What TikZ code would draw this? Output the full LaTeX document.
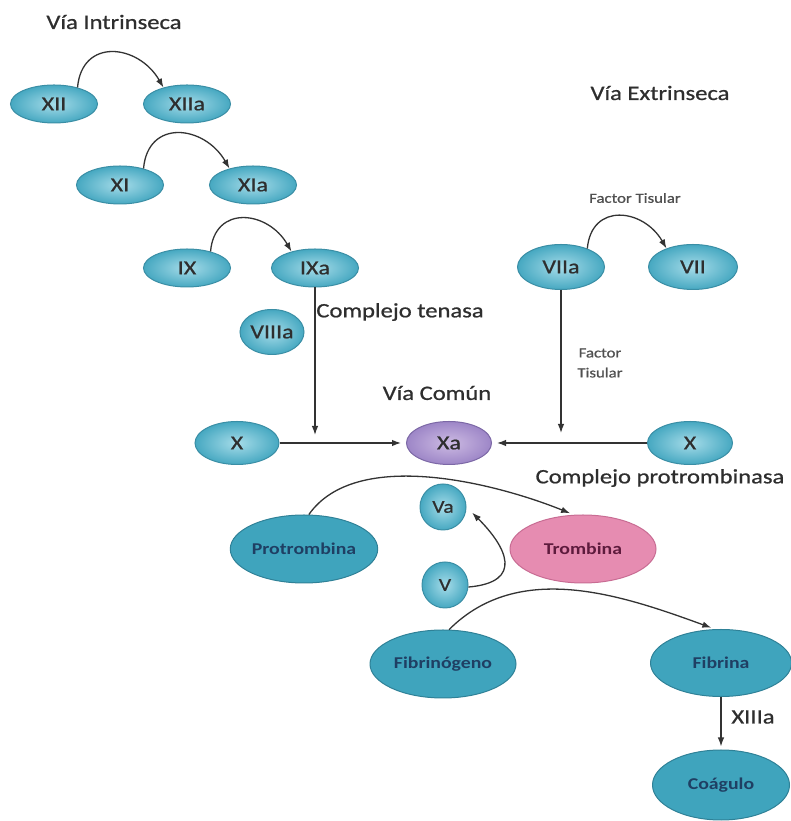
\documentclass[tikz,border=0pt]{standalone}
\usepackage{fontspec}
\setmainfont{Carlito}[FakeStretch=1.2]
\newfontfamily\medfont{Carlito}[FakeStretch=1.2,FakeBold=0.8]
\usetikzlibrary{shapes.geometric,arrows.meta}
\definecolor{tealin}{HTML}{A6DCE9}
\definecolor{tealout}{HTML}{46A8C1}
\definecolor{tealb}{HTML}{3A8EA5}
\definecolor{bigfill}{HTML}{3FA4BD}
\definecolor{bigb}{HTML}{2F8197}
\definecolor{bigtext}{HTML}{1F3F63}
\definecolor{pinkfill}{HTML}{E68CB1}
\definecolor{pinkb}{HTML}{C86C93}
\definecolor{pinktext}{HTML}{5E1B3D}
\definecolor{purin}{HTML}{CDBBE3}
\definecolor{purout}{HTML}{9D86C7}
\definecolor{purb}{HTML}{7C68A6}
\definecolor{labc}{HTML}{2E2E2E}
\definecolor{smallc}{HTML}{505050}
\definecolor{linec}{HTML}{333333}
\tikzset{
  lbl/.style={text=labc, font=\medfont\fontsize{20.5}{24}\selectfont, inner sep=0pt},
  smalllbl/.style={text=smallc, font=\medfont\fontsize{14}{20}\selectfont, align=center, inner sep=0pt},
  fac/.style={ellipse, draw=tealb, line width=1pt, inner color=tealin, outer color=tealout,
    text=labc, font=\medfont\fontsize{20}{22}\selectfont, inner sep=0pt,
    minimum width=87pt, minimum height=38pt},
  bignode/.style={ellipse, draw=bigb, line width=1pt, fill=bigfill, text=bigtext,
    font=\bfseries\fontsize{16.5}{18}\selectfont, inner sep=0pt,
    minimum width=146pt, minimum height=68pt},
  conn/.style={draw=linec, line width=1.3pt, -{Latex[length=9pt,width=6.5pt]}},
}
\begin{document}
\begin{tikzpicture}[x=1pt,y=1pt]
\useasboundingbox (0,0) rectangle (790,821);
% headings
\node[lbl] (hIntr) at (114,799) {Vía Intrinseca};
\node[lbl] (hExtr) at (660,728) {Vía Extrinseca};
\node[smalllbl] (ft1) at (635,623) {Factor Tisular};
\node[lbl] (hTen) at (400,509) {Complejo tenasa};
\node[smalllbl] (ft2) at (600,458) {Factor\\Tisular};
\node[lbl] (hCom) at (437,428) {Vía Común};
\node[lbl] (hPro) at (660,343) {Complejo protrombinasa};
\node[lbl] (hXIII) at (753,104) {XIIIa};
% intrinsic
\node[fac] (XII) at (54,717) {XII};
\node[fac] (XIIa) at (187,717) {XIIa};
\node[fac] (XI) at (120,636) {XI};
\node[fac] (XIa) at (253,636) {XIa};
\node[fac] (IX) at (187,553) {IX};
\node[fac] (IXa) at (315,553) {IXa};
\node[fac, minimum width=64pt, minimum height=45pt] (VIIIa) at (272,489) {VIIIa};
% extrinsic
\node[fac, minimum height=45pt] (VIIa) at (561,554) {VIIa};
\node[fac, minimum width=89pt, minimum height=45pt] (VII) at (693,554) {VII};
% common
\node[fac, minimum width=84pt, minimum height=43pt] (XL) at (237,378) {X};
\node[fac, minimum width=85pt, minimum height=43pt, inner color=purin, outer color=purout, draw=purb] (Xa) at (449,378) {Xa};
\node[fac, minimum width=85pt, minimum height=43pt] (XR) at (690,378) {X};
\node[bignode] (Prot) at (304,272) {Protrombina};
\node[bignode, fill=pinkfill, draw=pinkb, text=pinktext] (Trom) at (583,272) {Trombina};
\node[fac, circle, minimum size=46pt, font=\medfont\fontsize{18}{20}\selectfont] (Va) at (443,314) {Va};
\node[fac, circle, minimum size=46pt, font=\medfont\fontsize{18}{20}\selectfont] (V) at (445,236) {V};
\node[bignode] (Fibg) at (443,157) {Fibrinógeno};
\node[bignode, minimum width=141pt, minimum height=67pt] (Fib) at (721,158) {Fibrina};
\node[bignode, minimum width=137pt, minimum height=70pt] (Coag) at (721,36) {Coágulo};
% junction points
\coordinate (j1) at (315,386);
\coordinate (j2) at (561,388);
% arcs
\draw[conn] (XII.35) to[out=85,in=120,looseness=1.5] (XIIa.145);
\draw[conn] (XI.35) to[out=85,in=120,looseness=1.5] (XIa.145);
\draw[conn] (IX.35) to[out=85,in=120,looseness=1.5] (IXa.145);
\draw[conn] (VIIa.35) to[out=85,in=120,looseness=1.5] (VII.145);
% vertical
\draw[conn] (IXa) -- (j1);
\draw[conn] (VIIa) -- (j2);
% horizontal
\draw[conn, shorten >=5pt] (XL) -- (Xa);
\draw[conn, shorten >=5pt] (XR) -- (Xa);
% prothrombin
\draw[conn, shorten >=4pt] (Prot.82) to[out=55,in=158,looseness=0.8] (Trom.105);
\draw[conn, shorten >=8pt] (V.-5) to[out=5,in=-45,looseness=1.8] (Va.east);
\draw[conn, shorten >=4pt] (Fibg.80) to[out=45,in=160,looseness=0.95] (Fib.100);
\draw[conn, shorten >=3pt] (Fib) -- (Coag);
\end{tikzpicture}
\end{document}
